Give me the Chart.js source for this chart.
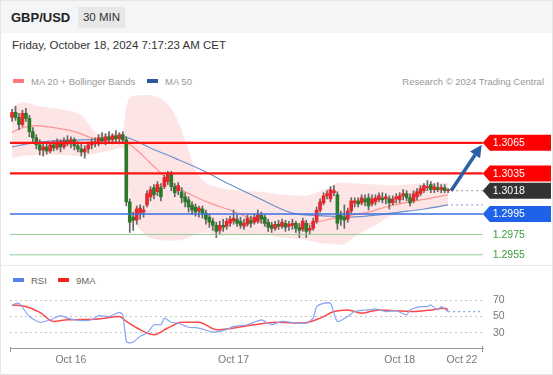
<!DOCTYPE html>
<html>
<head>
<meta charset="utf-8">
<script src="https://cdn.jsdelivr.net/npm/chart.js@4.4.1/dist/chart.umd.min.js"></script>
<style>
  body { margin: 0; background: #fff; font-family: "Liberation Sans", Arial, sans-serif; }
  #wrap { position: relative; width: 553px; height: 375px; overflow: hidden; }
  #head { position: absolute; left: 0; top: 0; width: 553px; height: 33px; background: #f4f5f6; }
  #pair { position: absolute; left: 11px; top: 10px; font-size: 13px; font-weight: bold; color: #222; }
  #tf { position: absolute; left: 78px; top: 7px; width: 47px; height: 21px; line-height: 21px; text-align: center; background: #e6e7e9; font-size: 11.5px; color: #333; }
  #date { position: absolute; left: 12px; top: 39px; font-size: 11.5px; color: #333; }
  .leg { position: absolute; font-size: 9.5px; color: #999; white-space: nowrap; }
  .sw { display: inline-block; width: 11px; height: 4px; vertical-align: middle; margin-right: 7px; position: relative; top: -1px; }
  #sep { position: absolute; left: 0; top: 265px; width: 553px; height: 1px; background: #ececec; }
  #frame { position: absolute; left: 0; top: 0; width: 553px; height: 375px; box-sizing: border-box; border: 1px solid #e6e6e6; pointer-events: none; }
  canvas { position: absolute; left: 0; }
</style>
</head>
<body>
<div id="wrap">
  <div id="head"><span id="pair">GBP/USD</span><span id="tf">30 MIN</span></div>
  <div id="date">Friday, October 18, 2024 7:17:23 AM CET</div>
  <div class="leg" style="left:13px; top:76px;"><span class="sw" style="background:#f77;"></span>MA 20 + Bollinger Bands</div>
  <div class="leg" style="left:147px; top:76px;"><span class="sw" style="background:#2d5a9e;"></span>MA 50</div>
  <div class="leg" style="right:9px; top:76px;">Research © 2024 Trading Central</div>
  <canvas id="main" width="553" height="170" style="top:95px;"></canvas>
  <div id="sep"></div>
  <div class="leg" style="left:13px; top:275px; color:#666;"><span class="sw" style="background:#5b7fe8;"></span>RSI</div>
  <div class="leg" style="left:58px; top:275px; color:#666;"><span class="sw" style="background:#ff2020;"></span>9MA</div>
  <canvas id="rsi" width="553" height="89" style="top:286px;"></canvas>
  <div id="frame"></div>
</div>
<script>
// 30 min candles, GBP/USD
const opens = [
  1.3090,1.3095,1.3090,1.3083,1.3094,1.3089,1.3076,1.3070,1.3063,
  1.3058,1.3061,1.3057,1.3063,1.3060,1.3066,1.3061,1.3067,1.3064,1.3068,1.3062,1.3059,1.3056,1.3059,1.3063,1.3066,
  1.3064,1.3070,1.3067,1.3071,1.3068,1.3072,1.3069,1.3073,
  1.3068,1.3007,1.2992,1.2989,1.2996,1.2997,1.3004,1.3012,1.3021,1.3017,1.3021,1.3022,1.3027,1.3034,1.3022,1.3018,1.3017,1.3012,1.3009,1.3004,1.3002,1.2998,1.3000,1.2996,1.2992,1.2988,1.2984,
  1.2979,1.2984,1.2983,1.2986,1.2988,1.2990,1.2988,1.2983,1.2985,1.2989,1.2987,1.2988,1.2994,1.2992,1.2987,1.2984,1.2981,1.2985,1.2983,1.2986,1.2983,1.2984,1.2986,1.2982,1.2980,1.2986,1.2979,1.2981,1.2988,1.2999,
  1.3006,1.3013,1.3010,1.3016,1.3014,1.2994,1.2992,1.2990,1.2998,1.3006,
  1.3008,1.3006,1.3010,1.3011,1.3005,1.3007,1.3009,1.3011,1.3010,1.3010,
  1.3006,1.3010,1.3009,1.3013,1.3015,1.3011,1.3008,1.3012,1.3015,1.3018,
  1.3021,1.3024,1.3019,1.3021,1.3019,1.3021,1.3018
];
const highs = [
  1.3098,1.3101,1.3094,1.3097,1.3099,1.3092,1.3080,1.3073,1.3068,
  1.3064,1.3066,1.3065,1.3067,1.3069,1.3068,1.3070,1.3072,1.3071,1.3070,1.3066,1.3064,1.3062,1.3066,1.3069,1.3070,
  1.3073,1.3075,1.3074,1.3076,1.3074,1.3077,1.3075,1.3076,
  1.3071,1.3010,1.2997,1.3003,1.3004,1.3003,1.3018,1.3022,1.3024,1.3027,1.3025,1.3033,1.3037,1.3037,1.3025,1.3026,1.3021,1.3016,1.3012,1.3007,1.3005,1.3003,1.3003,1.2999,1.2995,1.2991,1.2987,
  1.2988,1.2990,1.2991,1.2993,1.2999,1.2994,1.2992,1.2990,1.2994,1.2993,1.2995,1.2999,1.2997,1.2994,1.2990,1.2987,1.2988,1.2989,1.2990,1.2989,1.2988,1.2990,1.2988,1.2986,1.2991,1.2989,1.2984,1.2991,1.3002,1.3010,
  1.3016,1.3018,1.3022,1.3023,1.3017,1.2998,1.3004,1.3001,1.3011,1.3011,
  1.3011,1.3014,1.3014,1.3015,1.3014,1.3014,1.3016,1.3016,1.3015,1.3013,
  1.3013,1.3015,1.3016,1.3019,1.3018,1.3015,1.3018,1.3020,1.3023,1.3025,
  1.3028,1.3027,1.3025,1.3026,1.3024,1.3024,1.3020
];
const lows = [
  1.3086,1.3087,1.3078,1.3081,1.3086,1.3071,1.3066,1.3059,1.3053,
  1.3052,1.3054,1.3055,1.3057,1.3058,1.3056,1.3059,1.3062,1.3060,1.3058,1.3056,1.3052,1.3050,1.3055,1.3059,1.3061,
  1.3062,1.3064,1.3063,1.3065,1.3064,1.3066,1.3064,1.3066,
  1.3003,1.2977,1.2979,1.2985,1.2990,1.2992,1.3002,1.3008,1.3010,1.3013,1.3008,1.3020,1.3024,1.3018,1.3012,1.3014,1.3006,1.3002,1.2997,1.2995,1.2993,1.2992,1.2991,1.2985,1.2982,1.2979,1.2972,
  1.2976,1.2978,1.2980,1.2983,1.2985,1.2983,1.2981,1.2980,1.2983,1.2982,1.2985,1.2986,1.2986,1.2983,1.2978,1.2977,1.2979,1.2980,1.2981,1.2978,1.2979,1.2980,1.2977,1.2972,1.2978,1.2972,1.2975,1.2979,1.2986,1.2997,
  1.3004,1.3010,1.3007,1.3013,1.2980,1.2984,1.2981,1.2987,1.2996,1.3002,
  1.3002,1.3004,1.3003,1.2999,1.3003,1.3004,1.3007,1.3006,1.3005,1.3000,
  1.3004,1.3006,1.3006,1.3009,1.3008,1.3003,1.3006,1.3009,1.3013,1.3016,
  1.3018,1.3016,1.3016,1.3017,1.3016,1.3016,1.3016
];
const closes = [
  1.3095,1.3090,1.3083,1.3094,1.3089,1.3076,1.3070,1.3063,1.3058,
  1.3061,1.3057,1.3063,1.3060,1.3066,1.3061,1.3067,1.3064,1.3068,1.3062,1.3059,1.3056,1.3059,1.3063,1.3066,1.3064,
  1.3070,1.3067,1.3071,1.3068,1.3072,1.3069,1.3073,1.3068,
  1.3007,1.2987,1.2989,1.3000,1.3001,1.2999,1.3015,1.3019,1.3014,1.3024,1.3012,1.3031,1.3034,1.3022,1.3016,1.3023,1.3011,1.3007,1.3002,1.2999,1.2997,1.3001,1.2996,1.2990,1.2987,1.2984,1.2978,
  1.2984,1.2982,1.2988,1.2990,1.2991,1.2986,1.2984,1.2986,1.2991,1.2986,1.2992,1.2994,1.2990,1.2986,1.2982,1.2981,1.2985,1.2983,1.2987,1.2982,1.2985,1.2986,1.2981,1.2979,1.2988,1.2978,1.2981,1.2988,1.2999,1.3007,
  1.3013,1.3015,1.3019,1.3018,1.2986,1.2990,1.2989,1.2998,1.3008,1.3008,
  1.3005,1.3011,1.3007,1.3003,1.3010,1.3011,1.3013,1.3009,1.3012,1.3006,
  1.3010,1.3012,1.3013,1.3015,1.3011,1.3006,1.3015,1.3017,1.3020,1.3023,
  1.3022,1.3019,1.3022,1.3019,1.3021,1.3018,1.3018
];

// Bollinger bands (MA 20), read at a few candles
const bandIdx  = [0,3,8,14,20,25,30,32,33,35,38,42,45,48,51,53,56,60,66,72,78,84,90,95,100,105,110,118,126];
const bbUpper  = [1.3099,1.3105,1.3101,1.3098,1.3092,1.3074,1.3074,1.3076,1.3100,1.3111,1.3112,1.3110,1.3103,1.3086,1.3058,1.3038,1.3026,1.3021,1.3018,1.3017,1.3014,1.3013,1.3019,1.3026,1.3025,1.3024,1.3023,1.3025,1.3026];
const bbLower  = [1.3050,1.3052,1.3053,1.3053,1.3052,1.3055,1.3059,1.3060,1.3034,1.2994,1.2976,1.2970,1.2969,1.2969,1.2972,1.2975,1.2977,1.2974,1.2974,1.2975,1.2972,1.2970,1.2966,1.2965,1.2975,1.2984,1.2994,1.3000,1.3004];

const ma20Idx = [0,3,7,12,18,23,28,33,36,40,45,50,53,57,63,68,73,78,83,88,93,98,103,108,115,120,126];
const ma20Val = [1.3075,1.3080,1.3082,1.3080,1.3076,1.3070,1.3066,1.3065,1.3058,1.3045,1.3029,1.3017,1.3012,1.3006,1.2999,1.2992,1.2986,1.2984,1.2984,1.2987,1.2991,1.2994,1.2997,1.3002,1.3007,1.3010,1.3014];

const ma50Idx = [0,6,12,20,28,32,35,40,47,55,63,71,81,86,92,98,105,112,119,126];
const ma50Val = [1.3061,1.3065,1.3067,1.3068,1.3069,1.3071,1.3068,1.3060,1.3050,1.3038,1.3024,1.3011,1.2996,1.2994,1.2993,1.2992,1.2994,1.2997,1.3000,1.3004];

// key levels
const levelVals  = [1.3065, 1.3035, 1.3018, 1.2995, 1.2975, 1.2955];
const levelKinds = ['res', 'res', 'last', 'sup', 'tgt', 'tgt'];

// RSI panel
const rsiIdx = [0,2,5,8,11,14,16,20,23,25,28,31,32,33,34,35,37,39,41,43,44,46,48,51,54,58,62,64,68,72,74,75,78,82,85,87,88,90,92,94,97,99,103,105,108,111,114,115,118,120,121,123,124,126];
const rsiVal = [64,66,50,43,46,51,48,45,46,51,50,55,52,20,18,19,26,30,40,40,48,43,42,37,36,31,34,38,40,46,42,40,44,42,42,48,62,66,66,44,50,56,58,59,56,57,52,58,62,62,64,58,62,56];
const ma9Idx = [0,4,8,12,16,25,31,33,37,41,45,49,54,59,64,70,76,84,89,93,97,101,106,111,116,121,125,126];
const ma9Val = [64,62,55,44,46,47,50,44,34,28,36,43,43,34,36,40,43,42,48,56,58,54,58,57,56,58,60,58];
const rsiLines = [30, 50, 70];

// x axis
const tickIdx = [17, 64, 112, 130];
const tickLabels = ['Oct 16', 'Oct 17', 'Oct 18', 'Oct 22'];

const FONT = '"Liberation Sans", Arial, sans-serif';
Chart.defaults.font.family = FONT;

const UP = '#e8262b';
const DOWN = '#2a7a2a';
const X_MIN = -0.6;
const TAG_IDX = 136;

const pts = (xs, ys) => xs.map((v, i) => ({ x: v, y: ys[i] }));
const candleIdx = opens.map((_, i) => i);
const lastIdx = candleIdx.length - 1;

const levelStyle = {
  res:  { line: '#ff1414', width: 2.2, tag: '#ff0000', text: '#fff' },
  last: { line: '#999', width: 1, dash: [2, 3], fromLast: true, tag: '#333', text: '#fff' },
  sup:  { line: '#3d6fe0', width: 1.5, tag: '#1f62ea', text: '#fff' },
  tgt:  { line: '#94cc94', width: 1, text: '#3c9c3c' }
};

const levelsPlugin = {
  id: 'levels',
  afterDatasetsDraw(chart) {
    const { ctx, chartArea: ca, scales: { x, y } } = chart;
    const tagX = x.getPixelForValue(TAG_IDX);
    const lastX = x.getPixelForValue(lastIdx) + 3;
    ctx.save();

    // dotted MA 50 projection
    const m50y = y.getPixelForValue(ma50Val[ma50Val.length - 1]);
    ctx.beginPath();
    ctx.setLineDash([2, 3]);
    ctx.strokeStyle = '#7d98d4';
    ctx.lineWidth = 1;
    ctx.moveTo(lastX, m50y);
    ctx.lineTo(tagX, m50y);
    ctx.stroke();

    levelVals.forEach((v, i) => {
      const st = levelStyle[levelKinds[i]];
      const py = y.getPixelForValue(v);
      ctx.beginPath();
      ctx.setLineDash(st.dash || []);
      ctx.strokeStyle = st.line;
      ctx.lineWidth = st.width;
      ctx.moveTo(st.fromLast ? lastX : ca.left, py);
      ctx.lineTo(tagX, py);
      ctx.stroke();
      ctx.setLineDash([]);
      if (st.tag) {
        ctx.beginPath();
        ctx.moveTo(tagX, py);
        ctx.lineTo(tagX + 7, py - 8);
        ctx.lineTo(ca.right - 2, py - 8);
        ctx.lineTo(ca.right - 2, py + 8);
        ctx.lineTo(tagX + 7, py + 8);
        ctx.closePath();
        ctx.fillStyle = st.tag;
        ctx.fill();
      }
      ctx.fillStyle = st.text;
      ctx.font = '10.5px ' + FONT;
      ctx.textBaseline = 'middle';
      ctx.textAlign = 'left';
      ctx.fillText(v.toFixed(4), tagX + 10, py + 0.5);
    });

    // forecast arrow: last close towards first resistance
    const x0 = lastX, y0 = y.getPixelForValue(closes[lastIdx]);
    const x1 = tagX - 1, y1 = y.getPixelForValue(levelVals[0]) + 2;
    const len = Math.hypot(x1 - x0, y1 - y0);
    const ux = (x1 - x0) / len, uy = (y1 - y0) / len;
    const hl = 12, hw = 6;
    const bx = x1 - ux * hl, by = y1 - uy * hl;
    ctx.strokeStyle = '#2a5fa6';
    ctx.fillStyle = '#2a5fa6';
    ctx.lineWidth = 3.5;
    ctx.beginPath();
    ctx.moveTo(x0, y0);
    ctx.lineTo(bx, by);
    ctx.stroke();
    ctx.beginPath();
    ctx.moveTo(x1, y1);
    ctx.lineTo(bx - uy * hw, by + ux * hw);
    ctx.lineTo(bx + uy * hw, by - ux * hw);
    ctx.closePath();
    ctx.fill();
    ctx.restore();
  }
};

new Chart(document.getElementById('main'), {
  type: 'bar',
  data: {
    datasets: [
      { type: 'line', data: pts(bandIdx, bbUpper), borderWidth: 0, pointRadius: 0, fill: '+1',
        backgroundColor: 'rgba(250,80,80,0.15)', cubicInterpolationMode: 'monotone', order: 10 },
      { type: 'line', data: pts(bandIdx, bbLower), borderWidth: 0, pointRadius: 0, fill: false,
        cubicInterpolationMode: 'monotone', order: 9 },
      { type: 'line', data: pts(ma20Idx, ma20Val), borderColor: 'rgba(255,90,90,0.6)', borderWidth: 1.2,
        pointRadius: 0, cubicInterpolationMode: 'monotone', order: 8 },
      { type: 'line', data: pts(ma50Idx, ma50Val), borderColor: '#7090cc', borderWidth: 1.2,
        pointRadius: 0, cubicInterpolationMode: 'monotone', order: 7 },
      { data: candleIdx.map(i => ({ x: i, y: [lows[i], highs[i]] })), backgroundColor: '#666',
        barThickness: 1, grouped: false, order: 2 },
      { data: candleIdx.map(i => ({ x: i, y: [opens[i], closes[i]] })),
        backgroundColor: candleIdx.map(i => closes[i] >= opens[i] ? UP : DOWN),
        barThickness: 3, minBarLength: 1, grouped: false, order: 1 }
    ]
  },
  options: {
    responsive: false,
    animation: false,
    events: [],
    layout: { padding: { left: 10, right: 0, top: 0, bottom: 0 } },
    plugins: { legend: { display: false }, tooltip: { enabled: false } },
    scales: {
      x: { type: 'linear', display: false, min: X_MIN, max: 156.3, offset: false },
      y: { display: false, min: 1.2945, max: 1.3112 }
    }
  },
  plugins: [levelsPlugin]
});

const endTicks = {
  id: 'endTicks',
  afterDraw(chart) {
    const { ctx, chartArea: ca } = chart;
    ctx.save();
    ctx.strokeStyle = '#999';
    ctx.lineWidth = 1;
    ctx.beginPath();
    ctx.moveTo(ca.left + 0.5, ca.bottom - 1);
    ctx.lineTo(ca.left + 0.5, ca.bottom + 4);
    ctx.moveTo(ca.right - 0.5, ca.bottom - 2);
    ctx.lineTo(ca.right - 0.5, ca.bottom + 4);
    ctx.stroke();
    ctx.restore();
  }
};

const rsiXMax = 136.07;
new Chart(document.getElementById('rsi'), {
  type: 'line',
  data: {
    datasets: [
      { data: pts(rsiIdx, rsiVal), borderColor: '#88a5f2', borderWidth: 1.2, pointRadius: 0, tension: 0.2 },
      { data: [{ x: lastIdx, y: rsiVal[rsiVal.length - 1] }, { x: rsiXMax, y: rsiVal[rsiVal.length - 1] }],
        borderColor: '#88a5f2', borderWidth: 1.2, borderDash: [2, 3], pointRadius: 0 },
      { data: pts(ma9Idx, ma9Val), borderColor: 'rgba(255,40,40,0.85)', borderWidth: 1.5, pointRadius: 0,
        cubicInterpolationMode: 'monotone' }
    ]
  },
  options: {
    responsive: false,
    animation: false,
    events: [],
    layout: { padding: { left: 10, right: 0, top: 6, bottom: 0 } },
    plugins: { legend: { display: false }, tooltip: { enabled: false } },
    scales: {
      x: {
        type: 'linear', min: X_MIN, max: rsiXMax, offset: false,
        afterFit: a => { a.height = 27; a.paddingLeft = 0; a.paddingRight = 0; },
        afterBuildTicks: a => { a.ticks = tickIdx.map(v => ({ value: v })); },
        grid: { display: false, drawTicks: false },
        border: { display: true, color: '#999', width: 1 },
        ticks: {
          autoSkip: false, maxRotation: 0, padding: 6, color: '#777', font: { size: 10.5 },
          callback: v => tickLabels[tickIdx.indexOf(v)]
        }
      },
      y: {
        position: 'right', min: 11.8, max: 79.7,
        afterFit: a => { a.width = 70; a.paddingTop = 0; a.paddingBottom = 0; },
        afterBuildTicks: a => { a.ticks = rsiLines.map(v => ({ value: v })); },
        grid: { color: '#c4c4c4', lineWidth: 1, drawTicks: false },
        border: { display: false, dash: [2, 3] },
        ticks: { padding: 10, color: '#777', font: { size: 10.5 } }
      }
    }
  },
  plugins: [endTicks]
});
</script>
</body>
</html>
